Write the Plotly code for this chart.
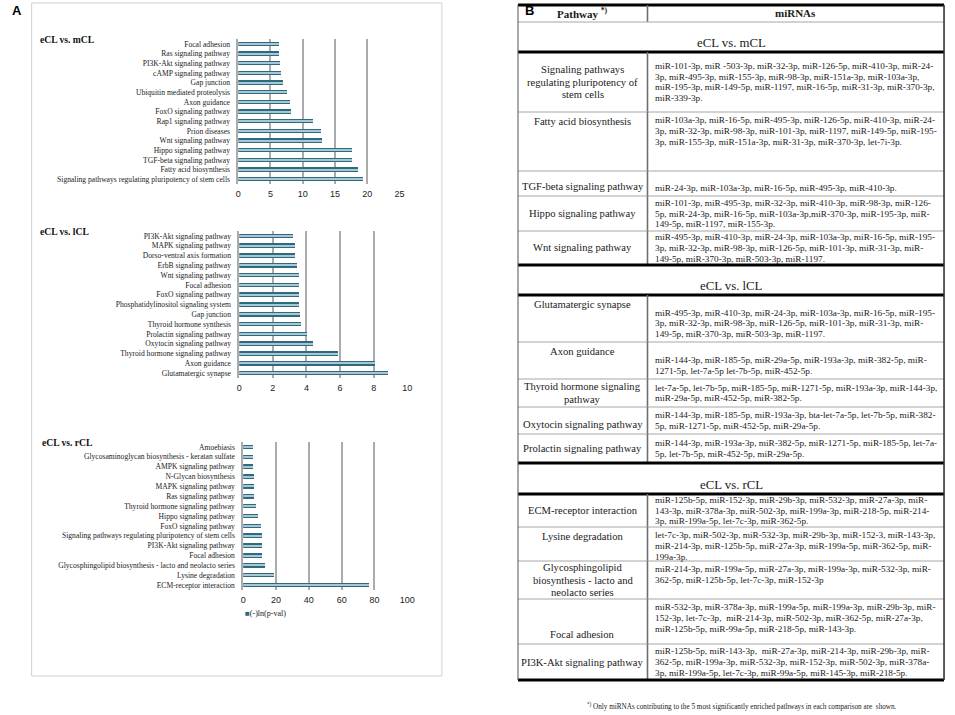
import plotly.graph_objects as go

# ---------------- Panel A data ----------------
mcl_pathways = ["Signaling pathways regulating pluripotency of stem cells", "Fatty acid biosynthesis",
                "TGF-beta signaling pathway", "Hippo signaling pathway", "Wnt signaling pathway",
                "Prion diseases", "Rap1 signaling pathway", "FoxO signaling pathway", "Axon guidance",
                "Ubiquitin mediated proteolysis", "Gap junction", "cAMP signaling pathway",
                "PI3K-Akt signaling pathway", "Ras signaling pathway", "Focal adhesion"]
mcl_values = [19.4, 18.6, 17.7, 17.7, 13.0, 12.9, 11.6, 8.3, 8.1, 7.6, 7.0, 6.6, 6.5, 6.4, 6.4]

lcl_pathways = ["Glutamatergic synapse", "Axon guidance", "Thyroid hormone signaling pathway",
                "Oxytocin signaling pathway", "Prolactin signaling pathway", "Thyroid hormone synthesis",
                "Gap junction", "Phosphatidylinositol signaling system", "FoxO signaling pathway",
                "Focal adhesion", "Wnt signaling pathway", "ErbB signaling pathway",
                "Dorso-ventral axis formation", "MAPK signaling pathway", "PI3K-Akt signaling pathway"]
lcl_values = [8.86, 8.11, 5.89, 4.39, 4.04, 3.66, 3.62, 3.58, 3.58, 3.58, 3.58, 3.44, 3.35, 3.35, 3.23]

rcl_pathways = ["ECM-receptor interaction", "Lysine degradation",
                "Glycosphingolipid biosynthesis - lacto and neolacto series", "Focal adhesion",
                "PI3K-Akt signaling pathway", "Signaling pathways regulating pluripotency of stem cells",
                "FoxO signaling pathway", "Hippo signaling pathway", "Thyroid hormone signaling pathway",
                "Ras signaling pathway", "MAPK signaling pathway", "N-Glycan biosynthesis",
                "AMPK signaling pathway", "Glycosaminoglycan biosynthesis - keratan sulfate", "Amoebiasis"]
rcl_values = [76.7, 18.7, 13.4, 11.8, 11.8, 11.4, 11.0, 9.4, 8.0, 7.0, 6.6, 6.6, 6.2, 5.8, 5.8]

chart_titles = ["eCL vs. mCL", "eCL vs. lCL", "eCL vs. rCL"]
x_maxima = [25, 10, 100]
x_dticks = [5, 2, 20]
legend_label = "(-)ln(p-val)"

# ---------------- Panel B data ----------------
section_titles = ["eCL vs. mCL", "eCL vs. lCL", "eCL vs. rCL"]
table_pathways = [
    ["Signaling pathways<br>regulating pluripotency of<br>stem cells", "Fatty acid biosynthesis",
     "TGF-beta signaling pathway", "Hippo signaling pathway", "Wnt signaling pathway"],
    ["Glutamatergic synapse", "Axon guidance", "Thyroid hormone signaling<br>pathway",
     "Oxytocin signaling pathway", "Prolactin signaling pathway"],
    ["ECM-receptor interaction", "Lysine degradation",
     "Glycosphingolipid<br>biosynthesis - lacto and<br>neolacto series", "Focal adhesion",
     "PI3K-Akt signaling pathway"],
]
table_mirnas = [
    [
        ["miR-101-3p, miR -503-3p, miR-32-3p, miR-126-5p, miR-410-3p, miR-24-",
         "3p, miR-495-3p, miR-155-3p, miR-98-3p, miR-151a-3p, miR-103a-3p,",
         "miR-195-3p, miR-149-5p, miR-1197, miR-16-5p, miR-31-3p, miR-370-3p,",
         "miR-339-3p."],
        ["miR-103a-3p, miR-16-5p, miR-495-3p, miR-126-5p, miR-410-3p, miR-24-",
         "3p, miR-32-3p, miR-98-3p, miR-101-3p, miR-1197, miR-149-5p, miR-195-",
         "3p, miR-155-3p, miR-151a-3p, miR-31-3p, miR-370-3p, let-7i-3p."],
        ["miR-24-3p, miR-103a-3p, miR-16-5p, miR-495-3p, miR-410-3p."],
        ["miR-101-3p, miR-495-3p, miR-32-3p, miR-410-3p, miR-98-3p, miR-126-",
         "5p, miR-24-3p, miR-16-5p, miR-103a-3p,miR-370-3p, miR-195-3p, miR-",
         "149-5p, miR-1197, miR-155-3p."],
        ["miR-495-3p, miR-410-3p, miR-24-3p, miR-103a-3p, miR-16-5p, miR-195-",
         "3p, miR-32-3p, miR-98-3p, miR-126-5p, miR-101-3p, miR-31-3p, miR-",
         "149-5p, miR-370-3p, miR-503-3p, miR-1197."],
    ],
    [
        ["miR-495-3p, miR-410-3p, miR-24-3p, miR-103a-3p, miR-16-5p, miR-195-",
         "3p, miR-32-3p, miR-98-3p, miR-126-5p, miR-101-3p, miR-31-3p, miR-",
         "149-5p, miR-370-3p, miR-503-3p, miR-1197."],
        ["miR-144-3p, miR-185-5p, miR-29a-5p, miR-193a-3p, miR-382-5p, miR-",
         "1271-5p, let-7a-5p let-7b-5p, miR-452-5p."],
        ["let-7a-5p, let-7b-5p, miR-185-5p, miR-1271-5p, miR-193a-3p, miR-144-3p,",
         "miR-29a-5p, miR-452-5p, miR-382-5p."],
        ["miR-144-3p, miR-185-5p, miR-193a-3p, bta-let-7a-5p, let-7b-5p, miR-382-",
         "5p, miR-1271-5p, miR-452-5p, miR-29a-5p."],
        ["miR-144-3p, miR-193a-3p, miR-382-5p, miR-1271-5p, miR-185-5p, let-7a-",
         "5p, let-7b-5p, miR-452-5p, miR-29a-5p."],
    ],
    [
        ["miR-125b-5p, miR-152-3p, miR-29b-3p, miR-532-3p, miR-27a-3p, miR-",
         "143-3p, miR-378a-3p, miR-502-3p, miR-199a-3p, miR-218-5p, miR-214-",
         "3p, miR-199a-5p, let-7c-3p, miR-362-5p."],
        ["let-7c-3p, miR-502-3p, miR-532-3p, miR-29b-3p, miR-152-3, miR-143-3p,",
         "miR-214-3p, miR-125b-5p, miR-27a-3p, miR-199a-5p, miR-362-5p, miR-",
         "199a-3p."],
        ["miR-214-3p, miR-199a-5p, miR-27a-3p, miR-199a-3p, miR-532-3p, miR-",
         "362-5p, miR-125b-5p, let-7c-3p, miR-152-3p"],
        ["miR-532-3p, miR-378a-3p, miR-199a-5p, miR-199a-3p, miR-29b-3p, miR-",
         "152-3p, let-7c-3p,  miR-214-3p, miR-502-3p, miR-362-5p, miR-27a-3p,",
         "miR-125b-5p, miR-99a-5p, miR-218-5p, miR-143-3p."],
        ["miR-125b-5p, miR-143-3p,  miR-27a-3p, miR-214-3p, miR-29b-3p, miR-",
         "362-5p, miR-199a-3p, miR-532-3p, miR-152-3p, miR-502-3p, miR-378a-",
         "3p, miR-199a-5p, let-7c-3p, miR-99a-5p, miR-145-3p, miR-218-5p."],
    ],
]
header_pathway = "<b>Pathway <sup>*)</sup></b>"
header_mirna = "<b>miRNAs</b>"
footnote = "<sup>*)</sup> Only miRNAs contributing to the 5 most significantly enriched pathways in each comparison are  shown."

# ---------------- Layout / style ----------------
W, H = 955, 715
SERIF = "Liberation Serif, Times New Roman, serif"
SANS = "Liberation Sans, Arial, sans-serif"
BAR_DARK = "#2e6b80"
BAR_LIGHT = "#a7c8d2"
GRID = "#ababab"


def fx(p):
    return p / W


def fy(p):
    return 1 - p / H


# chart boxes in pixels: (x0, x1, ytop, ybottom)
chart_boxes = [(238, 401, 39, 184), (239, 409, 231, 378), (243, 409, 442, 590)]
title_pos = [(35, 40), (35, 232), (37, 442)]

fig = go.Figure()
series = [(mcl_pathways, mcl_values), (lcl_pathways, lcl_values), (rcl_pathways, rcl_values)]
annotations = []
shapes = []

for i, ((cats, vals), box) in enumerate(zip(series, chart_boxes)):
    n = i + 1
    xa = "x" if n == 1 else f"x{n}"
    ya = "y" if n == 1 else f"y{n}"
    fig.add_trace(go.Bar(x=vals, y=cats, orientation="h", xaxis=xa, yaxis=ya, width=0.46,
                         marker=dict(color=BAR_DARK, line=dict(width=0)), showlegend=False,
                         name=legend_label))
    fig.add_trace(go.Bar(x=vals, y=cats, orientation="h", xaxis=xa, yaxis=ya, width=0.12,
                         marker=dict(color=BAR_LIGHT, line=dict(width=0)), showlegend=False,
                         hoverinfo="skip"))
    x0, x1, yt, yb = box
    fig.update_layout(**{
        f"xaxis{'' if n == 1 else n}": dict(
            domain=[fx(x0), fx(x1)], anchor=ya, range=[0, x_maxima[i]], dtick=x_dticks[i],
            showgrid=True, gridcolor=GRID, gridwidth=1.5, zeroline=False, showline=False,
            ticks="", tickfont=dict(family=SANS, size=9, color="#222"), ticklabelstandoff=3,
            fixedrange=True),
        f"yaxis{'' if n == 1 else n}": dict(
            domain=[fy(yb), fy(yt)], anchor=xa, type="category", categoryorder="array",
            categoryarray=cats, range=[-0.5, len(cats) - 0.5], showgrid=False, zeroline=False,
            showline=True, linecolor=GRID, linewidth=1.5, ticks="", ticklabelstandoff=5,
            tickfont=dict(family=SERIF, size=7.6, color="#222"), fixedrange=True),
    })
    tx, tyy = title_pos[i]
    annotations.append(dict(x=fx(tx), y=fy(tyy), xref="paper", yref="paper", xanchor="left",
                            yanchor="middle", showarrow=False, text=f"<b>{chart_titles[i]}</b>",
                            font=dict(family=SERIF, size=9.6, color="#111")))

# legend of chart 3
annotations.append(dict(x=fx(243), y=fy(613), xref="paper", yref="paper", xanchor="left",
                        yanchor="middle", showarrow=False,
                        text=f'<span style="color:{BAR_DARK}">■</span>{legend_label}',
                        font=dict(family=SERIF, size=8, color="#222")))

# panel A frame
shapes.append(dict(type="rect", xref="paper", yref="paper", x0=fx(29), x1=fx(444), y0=fy(676),
                   y1=fy(3), line=dict(color="#cfcfcf", width=1)))

# panel letters
annotations.append(dict(x=fx(7), y=fy(11), xref="paper", yref="paper", xanchor="left",
                        yanchor="middle", showarrow=False, text="<b>A</b>",
                        font=dict(family=SANS, size=13, color="#000")))
annotations.append(dict(x=fx(526), y=fy(11), xref="paper", yref="paper", xanchor="left",
                        yanchor="middle", showarrow=False, text="<b>B</b>",
                        font=dict(family=SANS, size=13, color="#000")))

# ---------------- Table (panel B) ----------------
TX0, TX1, TXD = 521, 952, 652
T_TOP = 5
header_h = 17
section_h = [30, 30, 31]
row_h = [[60, 59, 25, 35, 34], [47, 37, 28, 27, 29], [33, 34, 38, 45, 36]]
valign = [[("m", "m"), ("t", "t"), ("b", "b"), ("m", "m"), ("m", "m")],
          [("t", "b"), ("t", "b"), ("m", "m"), ("b", "m"), ("m", "m")],
          [("m", "m"), ("t", "t"), ("m", "t"), ("b", "t"), ("m", "m")]]
PW_SIZE, PW_LH = 10.6, 12.3
MI_SIZE, MI_LH = 9.25, 10.6

THICK = dict(color="#000", width=3)
THIN = dict(color="#a6a6a6", width=1)
VLINE = dict(color="#6e6e6e", width=1.6)


def hline(y, line):
    shapes.append(dict(type="line", xref="paper", yref="paper", x0=fx(TX0), x1=fx(TX1),
                       y0=fy(y), y1=fy(y), line=line))


def vline(x, ya, yb, line):
    shapes.append(dict(type="line", xref="paper", yref="paper", x0=fx(x), x1=fx(x),
                       y0=fy(ya), y1=fy(yb), line=line))


def text_block(lines, x, ytop, ybot, va, xanchor, size, lh, pad=3):
    n = len(lines)
    if va == "t":
        first = ytop + pad + lh / 2
    elif va == "b":
        first = ybot - pad - lh / 2 - (n - 1) * lh
    else:
        first = (ytop + ybot) / 2 - (n - 1) * lh / 2
    for k, line in enumerate(lines):
        annotations.append(dict(x=fx(x), y=fy(first + k * lh), xref="paper", yref="paper",
                                xanchor=xanchor, yanchor="middle", showarrow=False, text=line,
                                font=dict(family=SERIF, size=size, color="#1a1a1a")))


PW_X = (TX0 + TXD) / 2
MI_X = 658

y = T_TOP
hline(y, THICK)
text_block([header_pathway], PW_X, y, y + header_h, "m", "center", 11, 12)
text_block([header_mirna], (TXD + TX1) / 2, y, y + header_h, "m", "center", 11, 12)
vline(TXD, y, y + header_h, VLINE)
y += header_h
hline(y, THIN)
for s in range(3):
    text_block([section_titles[s]], (TX0 + TX1) / 2, y, y + section_h[s], "b", "center", 12.8, 14, pad=2)
    y += section_h[s]
    hline(y, THICK)
    for r in range(5):
        h = row_h[s][r]
        pva, mva = valign[s][r]
        text_block(table_pathways[s][r].split("<br>"), PW_X, y, y + h, pva, "center", PW_SIZE, PW_LH)
        text_block(table_mirnas[s][r], MI_X, y, y + h, mva, "left", MI_SIZE, MI_LH)
        vline(TXD, y, y + h, VLINE)
        y += h
        hline(y, THICK if r == 4 else THIN)
vline(TX0, T_TOP, y, dict(color="#555", width=1))
vline(TX1, T_TOP, y, dict(color="#333", width=1.6))

annotations.append(dict(x=fx(748), y=fy(706), xref="paper", yref="paper", xanchor="center",
                        yanchor="middle", showarrow=False, text=footnote,
                        font=dict(family=SERIF, size=7.2, color="#1a1a1a")))

fig.update_layout(width=W, height=H, margin=dict(l=0, r=0, t=0, b=0), paper_bgcolor="white",
                  plot_bgcolor="white", barmode="overlay", bargap=0, showlegend=False,
                  annotations=annotations, shapes=shapes)

fig.write_html("out.html", config={"displayModeBar": False},
               post_script="document.body.style.margin='0';document.body.style.overflow='hidden';")
